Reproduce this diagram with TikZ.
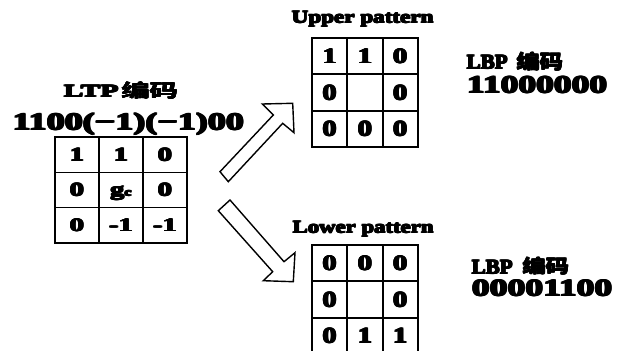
\documentclass[tikz,border=0pt]{standalone}
\usepackage{fontspec}
\usepackage{graphicx}
% serif bold for all Latin text, sans bold for the Chinese words
\newfontfamily\lab{Liberation Serif}[UprightFont=* Bold]
\newfontfamily\cjk{Noto Sans CJK SC}[UprightFont=* Bold]
% heavier strokes: the text is laid over itself with small shifts
\newlength\tk
\newcommand\thick[1]{\setlength\tk{0.05em}%
  \rlap{#1}\rlap{\kern.5\tk#1}\rlap{\kern\tk#1}%
  \rlap{\raisebox{.5\tk}{#1}}\rlap{\kern.5\tk\raisebox{.5\tk}{#1}}%
  \rlap{\kern\tk\raisebox{.5\tk}{#1}}#1\kern\tk}
% text piece scaled to a given width and height (in pt)
\newcommand\fitto[3]{\resizebox{#1pt}{#2pt}{\thick{#3}}}
\tikzset{
  lbl/.style={anchor=base west, inner sep=0pt, font=\lab},
  cjklbl/.style={anchor=base west, inner sep=0pt, font=\cjk},
  lcell/.style={draw, line width=1.8pt, minimum width=44pt, minimum height=35.1pt,
    inner sep=0pt, text height=13pt, text depth=0pt,
    font=\lab\fontsize{19}{19}\selectfont},
  rcell/.style={draw, line width=1.8pt, minimum width=35.3pt, minimum height=36.3pt,
    inner sep=0pt, text height=15.2pt, text depth=0pt,
    font=\lab\fontsize{22}{22}\selectfont},
  blockarrow/.style={draw, line width=1.4pt, fill=white, line join=miter},
}
\newcommand\wideL[1]{\scalebox{1.5}[1]{\thick{#1}}}
\newcommand\wideR[1]{\scalebox{1.3}[1]{\thick{#1}}}
\begin{document}
\begin{tikzpicture}[x=1pt, y=-1pt]
\useasboundingbox (0,0) rectangle (630,351);
\fill[white] (0,0) rectangle (630,351);

% ---------- LTP side ----------
\node[lbl]    (ltp)   at (63,97)   {\fitto{56}{12}{LTP}};
\node[cjklbl] (ltpcn) at (121,97.5)  {\fitto{58}{16}{编码}};
\node[lbl]    (ltpcode) at (11.7,130) {\fitto{233}{17.5}{1100(−1)(−1)00}};

\foreach \r [count=\i] in {0,1,2}{
  \foreach \c [count=\j] in {0,1,2}{
    \coordinate (lc\i\j) at ({55+22+44*\c},{137.3+17.55+35.1*\r});
  }
}
\node[lcell] (l11) at (lc11) {\wideL{1}};
\node[lcell] (l12) at (lc12) {\wideL{1}};
\node[lcell] (l13) at (lc13) {\wideL{0}};
\node[lcell] (l21) at (lc21) {\wideL{0}};
\node[lcell] (l22) at (lc22) {\wideL{g\raisebox{0pt}{\fontsize{11}{11}\selectfont c}}};
\node[lcell] (l23) at (lc23) {\wideL{0}};
\node[lcell] (l31) at (lc31) {\wideL{0}};
\node[lcell] (l32) at (lc32) {\wideL{-1}};
\node[lcell] (l33) at (lc33) {\wideL{-1}};

% ---------- block arrows ----------
\draw[blockarrow] (220,171.7) -- (273.3,115) -- (262.3,104) -- (292.7,103.3)
  -- (294,132.7) -- (282.7,123.3) -- (228.3,181.7) -- cycle;
\draw[blockarrow] (230,200) -- (284,261.7) -- (295,252.7) -- (293.3,281.7)
  -- (263.3,280.7) -- (272.7,271.7) -- (218.3,210.7) -- cycle;

% ---------- upper pattern ----------
\node[lbl] (uptitle) at (291,23) {\fitto{143}{12}{Upper pattern}};
\foreach \r [count=\i] in {0,1,2}{
  \foreach \c [count=\j] in {0,1,2}{
    \coordinate (uc\i\j) at ({312+17.65+35.3*\c},{38+18.15+36.3*\r});
  }
}
\node[rcell] (u11) at (uc11) {\wideR{1}};
\node[rcell] (u12) at (uc12) {\wideR{1}};
\node[rcell] (u13) at (uc13) {\wideR{0}};
\node[rcell] (u21) at (uc21) {\wideR{0}};
\node[rcell] (u22) at (uc22) {};
\node[rcell] (u23) at (uc23) {\wideR{0}};
\node[rcell] (u31) at (uc31) {\wideR{0}};
\node[rcell] (u32) at (uc32) {\wideR{0}};
\node[rcell] (u33) at (uc33) {\wideR{0}};

\node[lbl]    (ulbp)   at (466,69) {\fitto{42}{14}{LBP}};
\node[cjklbl] (ulbpcn) at (516,69) {\fitto{48}{17}{编码}};
\node[lbl]    (ucode)  at (466,93) {\fitto{142}{17}{11000000}};

% ---------- lower pattern ----------
\node[lbl] (lotitle) at (292,233) {\fitto{142}{12}{Lower pattern}};
\foreach \r [count=\i] in {0,1,2}{
  \foreach \c [count=\j] in {0,1,2}{
    \coordinate (dc\i\j) at ({312+17.65+35.3*\c},{245+18.15+36.3*\r});
  }
}
\node[rcell] (d11) at (dc11) {\wideR{0}};
\node[rcell] (d12) at (dc12) {\wideR{0}};
\node[rcell] (d13) at (dc13) {\wideR{0}};
\node[rcell] (d21) at (dc21) {\wideR{0}};
\node[rcell] (d22) at (dc22) {};
\node[rcell] (d23) at (dc23) {\wideR{0}};
\node[rcell] (d31) at (dc31) {\wideR{0}};
\node[rcell] (d32) at (dc32) {\wideR{1}};
\node[rcell] (d33) at (dc33) {\wideR{1}};

\node[lbl]    (dlbp)   at (471,274) {\fitto{42}{14}{LBP}};
\node[cjklbl] (dlbpcn) at (522,273) {\fitto{48}{16}{编码}};
\node[lbl]    (dcode)  at (471,296) {\fitto{142}{16.5}{00001100}};
\end{tikzpicture}
\end{document}
